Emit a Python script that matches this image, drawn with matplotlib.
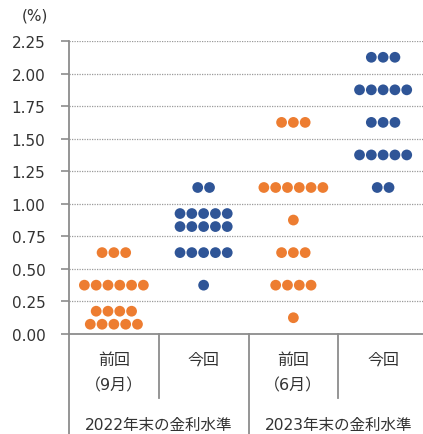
import matplotlib
matplotlib.use("Agg")
import matplotlib.pyplot as plt
import matplotlib.transforms as mtransforms

plt.rcParams['font.family'] = ['DejaVu Sans', 'Noto Sans CJK JP']

# ---- data ----
cat_labels = ["前回\n（9月）", "今回", "前回\n（6月）", "今回"]
group_labels = ["2022年末の金利水準", "2023年末の金利水準"]
series_colors = ["#ED7D31", "#2F5597", "#ED7D31", "#2F5597"]

levels_2022_prev = [0.625, 0.375, 0.125]
counts_2022_prev = [3, 6, 9]
levels_2022_now = [1.125, 0.875, 0.625, 0.375]
counts_2022_now = [2, 10, 5, 1]
levels_2023_prev = [1.625, 1.125, 0.875, 0.625, 0.375, 0.125]
counts_2023_prev = [3, 6, 1, 3, 4, 1]
levels_2023_now = [2.125, 1.875, 1.625, 1.375, 1.125]
counts_2023_now = [3, 5, 3, 5, 2]

y_ticks = [0.0, 0.25, 0.5, 0.75, 1.0, 1.25, 1.5, 1.75, 2.0, 2.25]

all_levels = [levels_2022_prev, levels_2022_now, levels_2023_prev, levels_2023_now]
all_counts = [counts_2022_prev, counts_2022_now, counts_2023_prev, counts_2023_now]

# ---- figure ----
W, H = 423, 435
fig = plt.figure(figsize=(W / 100, H / 100), dpi=100)
left_px, right_px, top_px, bot_px = 69, 428, 42, 335
ax = fig.add_axes([left_px / W, (H - bot_px) / H,
                   (right_px - left_px) / W, (bot_px - top_px) / H])
ax.set_xlim(0, 4)
ax.set_ylim(0, 2.25)

grid_col = "#9a9a9a"
spine_col = "#8c8c8c"
txt_col = "#333333"
for yv in y_ticks[1:]:
    ax.axhline(yv, color=grid_col, lw=0.9, ls=(0, (1, 1)), zorder=1)

for s in ["top", "right"]:
    ax.spines[s].set_visible(False)
for s in ["left", "bottom"]:
    ax.spines[s].set_color(spine_col)
    ax.spines[s].set_linewidth(1.3)

ax.set_yticks(y_ticks)
ax.set_yticklabels([f"{v:.2f}" for v in y_ticks])
ax.tick_params(axis="y", length=6, width=1.2, color=spine_col,
               labelsize=11, labelcolor=txt_col, pad=11)
ax.set_xticks([])

# ---- dots ----
dx = 11.8 / (right_px - left_px) * 4   # horizontal dot spacing in data units
dy = 0.05                              # half row gap when split into two rows
max_row = 6
for i, (levs, cnts) in enumerate(zip(all_levels, all_counts)):
    xc = i + 0.5
    xs, ys = [], []
    for lv, n in zip(levs, cnts):
        if n > max_row:
            rows = [(n // 2, lv + dy), (n - n // 2, lv - dy)]
        else:
            rows = [(n, lv)]
        for k, yy in rows:
            for j in range(k):
                xs.append(xc + (j - (k - 1) / 2) * dx)
                ys.append(yy)
    ax.scatter(xs, ys, s=60, color=series_colors[i], edgecolors="none",
               zorder=3, clip_on=False)

# ---- category axis ----
trans = mtransforms.blended_transform_factory(ax.transData, fig.transFigure)
def fy(px):
    return 1 - px / H

for xv in [1, 3]:
    ax.plot([xv, xv], [fy(bot_px), fy(399)], transform=trans, color=spine_col,
            lw=1.3, clip_on=False)
for xv in [0, 2]:
    ax.plot([xv, xv], [fy(bot_px), fy(H + 2)], transform=trans, color=spine_col,
            lw=1.3, clip_on=False)

for i, lab in enumerate(cat_labels):
    lines = lab.split("\n")
    for k, ln in enumerate(lines):
        ax.text(i + 0.5, fy(360 + 26 * k), ln, transform=trans, ha="center",
                va="center", fontsize=11.5, color=txt_col)

for g, lab in enumerate(group_labels):
    ax.text(2 * g + 1, fy(425), lab, transform=trans, ha="center", va="center",
            fontsize=11.2, color=txt_col)

fig.text(35 / W, fy(16), "(%)", ha="center", va="center", fontsize=11,
         color=txt_col)

fig.savefig("out.png", dpi=100)
